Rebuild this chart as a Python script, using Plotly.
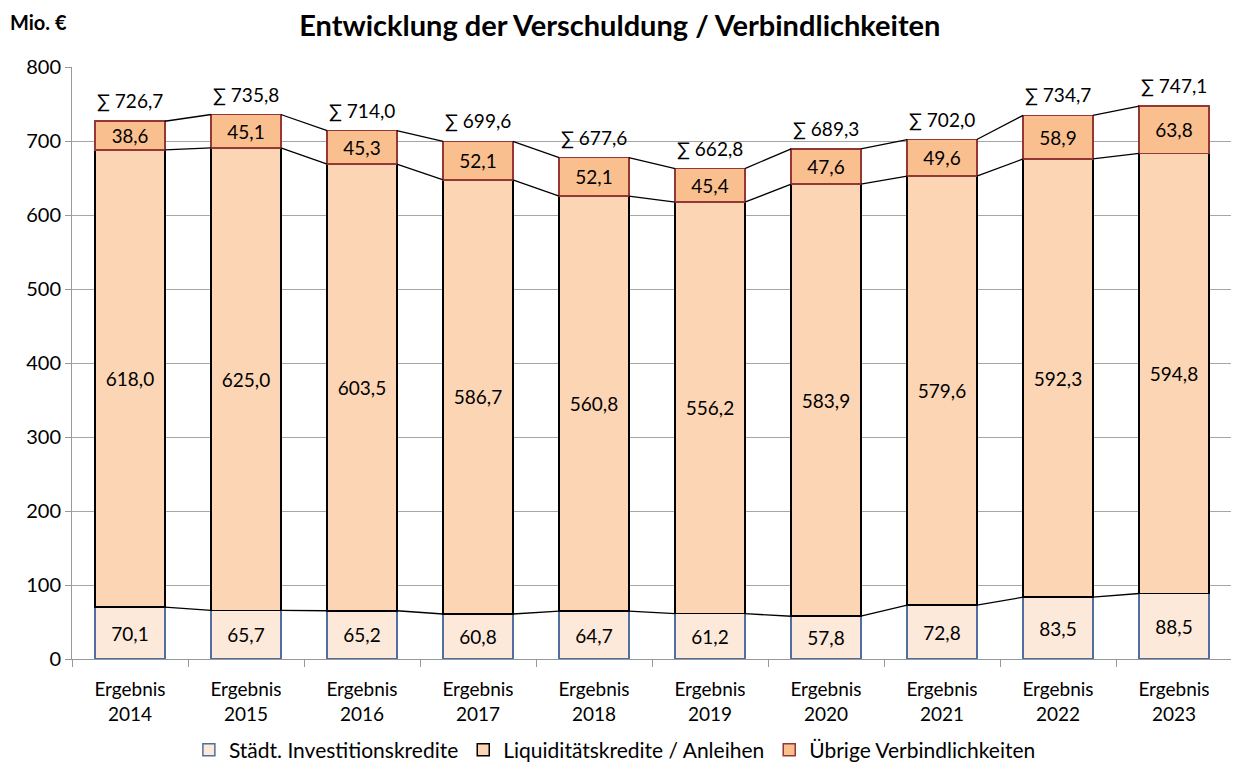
import plotly.graph_objects as go

years = ["2014", "2015", "2016", "2017", "2018", "2019", "2020", "2021", "2022", "2023"]
invest = [70.1, 65.7, 65.2, 60.8, 64.7, 61.2, 57.8, 72.8, 83.5, 88.5]
liquid = [618.0, 625.0, 603.5, 586.7, 560.8, 556.2, 583.9, 579.6, 592.3, 594.8]
uebrig = [38.6, 45.1, 45.3, 52.1, 52.1, 45.4, 47.6, 49.6, 58.9, 63.8]
totals = [726.7, 735.8, 714.0, 699.6, 677.6, 662.8, 689.3, 702.0, 734.7, 747.1]

FONT = "Lato"
fmt = lambda v: f"{v:.1f}".replace(".", ",")
x = list(range(len(years)))
W = 0.6

fig = go.Figure()
series = [
    ("Städt. Investitionskredite", invest, "#FDE9D9", "#4F6FA0"),
    ("Liquiditätskredite / Anleihen", liquid, "#FCD5B4", "#000000"),
    ("Übrige Verbindlichkeiten", uebrig, "#FABF8F", "#953735"),
]
for name, vals, fill, line in series:
    fig.add_trace(go.Bar(
        x=x, y=vals, name=name, width=W,
        marker=dict(color=fill, line=dict(color=line, width=1.5)),
        text=[fmt(v) for v in vals], textposition="inside",
        insidetextanchor="middle", textangle=0,
        textfont=dict(family=FONT, size=19, color="black"),
    ))

# series lines
cum1 = invest
cum2 = [a + b for a, b in zip(invest, liquid)]
cum3 = [a + b + c for a, b, c in zip(invest, liquid, uebrig)]
for cum in (cum1, cum2, cum3):
    xs, ys = [], []
    for i in range(len(x) - 1):
        xs += [x[i] + W / 2, x[i + 1] - W / 2, None]
        ys += [cum[i], cum[i + 1], None]
    fig.add_trace(go.Scatter(x=xs, y=ys, mode="lines", showlegend=False,
                             line=dict(color="black", width=1.3), hoverinfo="skip"))

for i, t in enumerate(totals):
    fig.add_annotation(x=x[i], y=cum3[i], text="∑ " + fmt(t), showarrow=False,
                       yanchor="bottom", yshift=7,
                       font=dict(family=FONT, size=19, color="black"))

fig.add_annotation(text="<b>Mio. €</b>", xref="paper", yref="paper", x=-0.055, y=1.076,
                   xanchor="left", yanchor="middle", showarrow=False,
                   font=dict(family=FONT, size=20, color="black"))

fig.update_layout(
    barmode="stack",
    width=1231, height=762,
    margin=dict(l=64, r=7, t=59, b=111, autoexpand=False),
    paper_bgcolor="white", plot_bgcolor="white",
    title=dict(text="<b>Entwicklung der Verschuldung / Verbindlichkeiten</b>",
               x=0.497, xanchor="center", y=0.9764, yanchor="middle",
               font=dict(family=FONT, size=29, color="black")),
    legend=dict(orientation="h", x=0.468, xanchor="center", y=0.026, yanchor="middle",
                yref="container",
                font=dict(family=FONT, size=21, color="black"), traceorder="normal",
                itemwidth=30, tracegroupgap=0),
    showlegend=True,
)
fig.update_xaxes(
    range=[-0.5, len(x) - 0.5], tickvals=x,
    ticktext=[f"Ergebnis<br>{y}" for y in years],
    tickfont=dict(family=FONT, size=19, color="black"),
    ticklabelstandoff=13, automargin=False,
    showgrid=False, zeroline=False, showline=True, linecolor="#999999", linewidth=1,
    ticks="", mirror=False,
    minor=dict(tick0=-0.5, dtick=1, ticks="outside", ticklen=7, tickcolor="#999999", showgrid=False),
)
fig.update_yaxes(
    range=[0, 800], dtick=100, automargin=False,
    tickfont=dict(family=FONT, size=20, color="black"),
    showgrid=True, gridcolor="#A6A6A6", gridwidth=1, zeroline=False,
    showline=True, linecolor="#999999", linewidth=1,
    ticks="outside", ticklen=6, tickcolor="#999999",
)
fig.add_shape(type="line", xref="paper", yref="paper", x0=1, x1=1, y0=0, y1=1,
              line=dict(color="#999999", width=1))

fig.write_html("out.html")
